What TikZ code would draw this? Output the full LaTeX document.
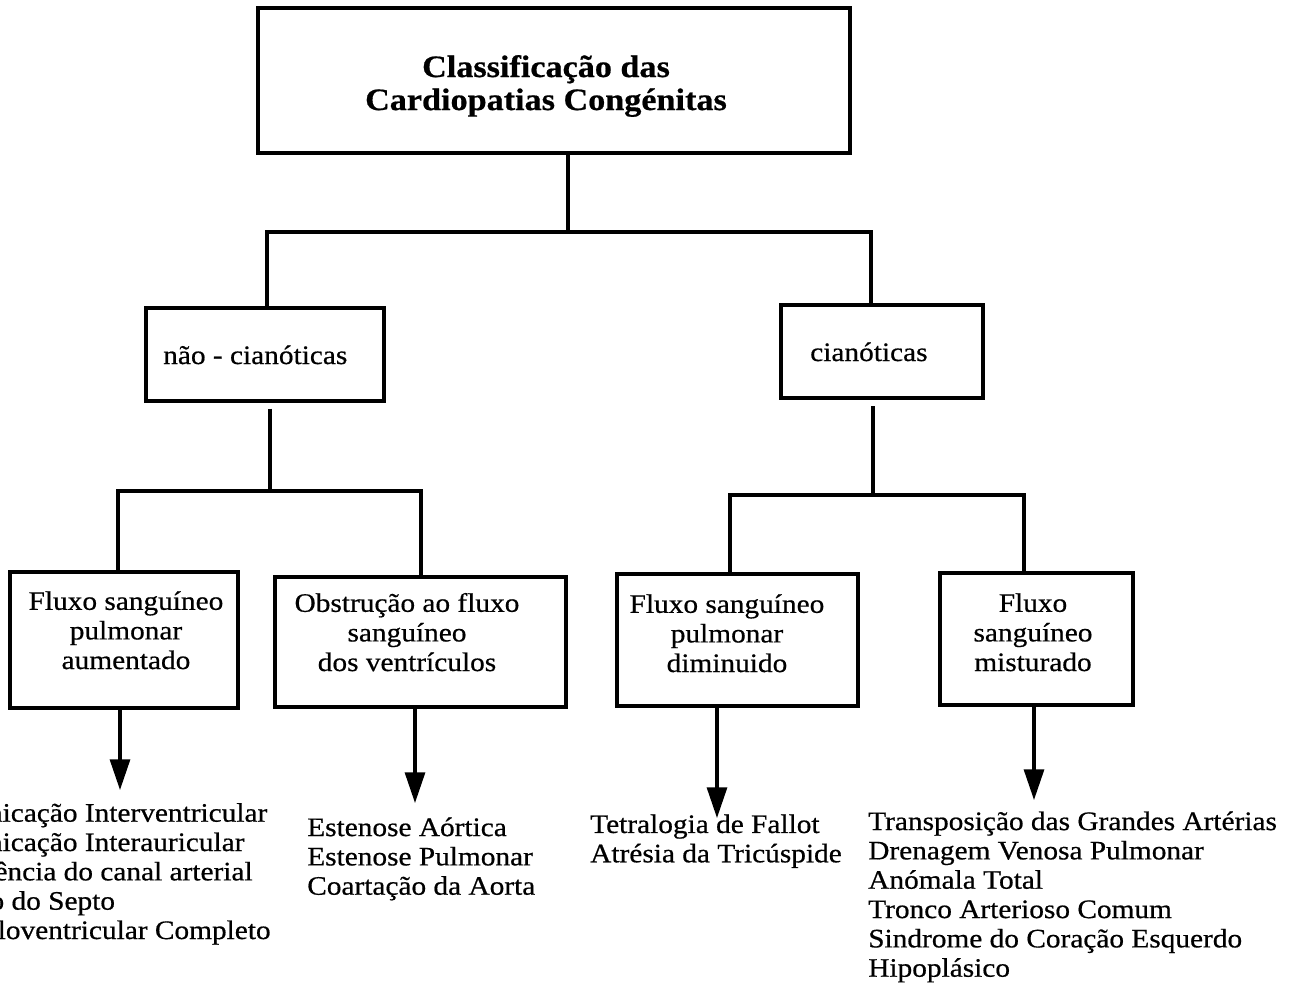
\documentclass[tikz,border=0pt]{standalone}
\usepackage{fontspec}
\setmainfont{Liberation Serif}[FakeStretch=1.1, FakeBold=0.6]
\usetikzlibrary{arrows.meta,fit}
\begin{document}
\begin{tikzpicture}[x=0.75pt,y=-0.75pt,
  box/.style={draw, line width=2.3pt, inner sep=0pt},
  conn/.style={line width=2.3pt},
  arr/.style={line width=2.3pt, -{Triangle[width=15pt,length=23pt]}},
  txt/.style={inner sep=0pt, font=\fontsize{20}{22}\selectfont},
  btxt/.style={inner sep=0pt, align=center, font=\fontsize{20}{22.2}\selectfont},
  ttl/.style={inner sep=0pt, align=center, font=\bfseries\fontsize{23.3}{24.75}\selectfont}]
\useasboundingbox (0,0) rectangle (1293,986);
\clip (0,0) rectangle (1293,986);
\fill[white] (0,0) rectangle (1293,986);

% boxes
\node[box, fit={(258,8)(850,153)}] (top) {};
\node[box, fit={(146,308)(384,401)}] (nc) {};
\node[box, fit={(781,305)(983,398)}] (cian) {};
\node[box, fit={(10,572)(238,708)}] (fspa) {};
\node[box, fit={(275,577)(566,707)}] (obs) {};
\node[box, fit={(617,574)(858,706)}] (fspd) {};
\node[box, fit={(940,573)(1133,705)}] (fsm) {};

% box texts (base anchor = baseline of the last line)
\node[ttl, anchor=base] (topt) at (546,110) {Classificação das\\Cardiopatias Congénitas};
\node[txt, anchor=base west] (nct) at (163,364) {não - cianóticas};
\node[txt, anchor=base west] (ciant) at (810,361) {cianóticas};
\node[btxt, anchor=base] (fspat) at (126,669) {Fluxo sanguíneo\\pulmonar\\aumentado};
\node[btxt, anchor=base] (obst) at (407,671) {Obstrução ao fluxo\\sanguíneo\\dos ventrículos};
\node[btxt, anchor=base] (fspdt) at (727,672) {Fluxo sanguíneo\\pulmonar\\diminuido};
\node[btxt, anchor=base] (fsmt) at (1033,671) {Fluxo\\sanguíneo\\misturado};

% junction coordinates
\coordinate (j1) at (568,232);
\coordinate (j1L) at (267,232);
\coordinate (j1R) at (871,232);
\coordinate (j2) at (270,491);
\coordinate (j2L) at (118,491);
\coordinate (j2R) at (421,491);
\coordinate (j3) at (873,495);
\coordinate (j3L) at (730,495);
\coordinate (j3R) at (1024,495);

\draw[conn] (top.south -| j1) -- (j1);
\draw[conn] (nc.north -| j1L) -- (j1L) -- (j1R) -- (cian.north -| j1R);
\draw[conn, shorten <=4.5pt] (nc.south -| j2) -- (j2);
\draw[conn] (fspa.north -| j2L) -- (j2L) -- (j2R) -- (obs.north -| j2R);
\draw[conn, shorten <=5pt] (cian.south -| j3) -- (j3);
\draw[conn] (fspd.north -| j3L) -- (j3L) -- (j3R) -- (fsm.north -| j3R);

% arrows
\coordinate (a1) at (120,790);
\coordinate (a2) at (415,803);
\coordinate (a3) at (717,818);
\coordinate (a4) at (1034,800);
\draw[arr] (fspa.south -| a1) -- (a1);
\draw[arr] (obs.south -| a2) -- (a2);
\draw[arr] (fspd.south -| a3) -- (a3);
\draw[arr] (fsm.south -| a4) -- (a4);

% lists (base anchor = baseline of the last line)
\node[txt, align=left, anchor=base west] (l1) at (-84,939) {Comunicação Interventricular\\Comunicação Interauricular\\Persistência do canal arterial\\Defeito do Septo\\Auriculoventricular Completo};
\node[txt, align=left, anchor=base west] (l2) at (307,894.7) {Estenose Aórtica\\Estenose Pulmonar\\Coartação da Aorta};
\node[txt, align=left, anchor=base west] (l3) at (590,862.3) {Tetralogia de Fallot\\Atrésia da Tricúspide};
\node[txt, align=left, anchor=base west] (l4) at (868,976.7) {Transposição das Grandes Artérias\\Drenagem Venosa Pulmonar\\Anómala Total\\Tronco Arterioso Comum\\Sindrome do Coração Esquerdo\\Hipoplásico};
\end{tikzpicture}
\end{document}
